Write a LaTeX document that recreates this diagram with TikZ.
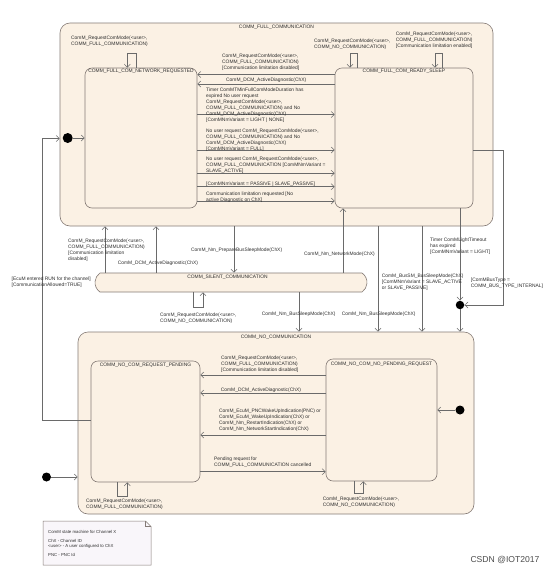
\documentclass[tikz,border=0pt]{standalone}
\usepackage{fontspec}
\setmainfont{Liberation Sans}
\usetikzlibrary{arrows.meta,shapes.misc}
\definecolor{beige}{HTML}{FBF1E4}
\definecolor{bordc}{HTML}{857B76}
\definecolor{linec}{HTML}{6A6A6A}
\definecolor{txtc}{HTML}{2E2E2E}
\definecolor{notefill}{HTML}{F9F6FA}
\begin{document}
\begin{tikzpicture}[x=1pt,y=-1pt,
  compbox/.style={draw=bordc,fill=beige,rounded corners=10pt,line width=0.6pt,inner sep=0},
  stbox/.style={draw=bordc,fill=beige,rounded corners=7pt,line width=0.6pt,inner sep=0},
  lbl/.style={font=\fontsize{4.9}{6}\selectfont,align=left,inner sep=0,anchor=north west,text=txtc},
  ttl/.style={font=\fontsize{4.9}{6}\selectfont,inner sep=0,text=txtc},
  tr/.style={draw=linec,line width=0.5pt,-{Straight Barb[length=3.2pt,width=6pt]}},
  ln/.style={draw=linec,line width=0.5pt},
  initdot/.style={circle,fill=black,inner sep=0,minimum size=9pt}]
\useasboundingbox (0,0) rectangle (550,576);
\fill[white] (0,0) rectangle (550,576);

% composite states
\node[compbox,minimum width=433pt,minimum height=203pt] (FULL) at (276.5,124.5) {};
\node[compbox,minimum width=396pt,minimum height=182pt] (NOC) at (276,423) {};
\node[rounded rectangle,rounded rectangle arc length=110,draw=bordc,fill=beige,line width=0.6pt,inner sep=0,minimum width=272pt,minimum height=19pt] (SIL) at (231,282.5) {};

% inner states
\node[stbox,minimum width=112pt,minimum height=140pt] (NR) at (141,138) {};
\node[stbox,minimum width=138pt,minimum height=140pt] (RS) at (404,138) {};
\node[stbox,minimum width=109pt,minimum height=121pt] (RP) at (145.5,421.5) {};
\node[stbox,minimum width=111pt,minimum height=122pt] (NP) at (381.5,420) {};

% titles
\node[ttl] (FULLt) at (276.5,27) {COMM\_FULL\_COMMUNICATION};
\node[ttl] (NRt) at (141,71.7) {COMM\_FULL\_COM\_NETWORK\_REQUESTED};
\node[ttl] (RSt) at (404,71.7) {COMM\_FULL\_COM\_READY\_SLEEP};
\node[ttl] (SILt) at (227.5,277) {COMM\_SILENT\_COMMUNICATION};
\node[ttl] (NOCt) at (276,337) {COMM\_NO\_COMMUNICATION};
\node[ttl] (RPt) at (145.5,365) {COMM\_NO\_COM\_REQUEST\_PENDING};
\node[ttl] (NPt) at (381.5,364.3) {COMM\_NO\_COM\_NO\_PENDING\_REQUEST};

% pseudo states
\node[initdot,minimum size=10pt] (I1) at (67.7,138) {};
\node[initdot] (I0) at (46.5,477) {};
\node[initdot] (I2) at (460,410) {};
\node[initdot,minimum size=8.5pt] (J) at (460,305) {};

% self loops
\draw[tr] (NR.north -| 136.7,0) -- (136.7,53.3) -| (NR.north -| 127.3,0);
\draw[tr] (RS.north -| 357.3,0) -- (357.3,53.3) -| (RS.north -| 350,0);
\draw[tr] (RS.north -| 442.3,0) -- (442.3,53.3) -| (RS.north -| 435,0);
\draw[tr] (SIL.south -| 193,0) -- (193,307) -| (SIL.south -| 203,0);
\draw[tr] (RP.south -| 117.7,0) -- (117.7,496) -| (RP.south -| 127.3,0);
\draw[tr] (NP.south -| 354,0) -- (354,493.3) -| (NP.south -| 363.3,0);

% transitions inside FULL
\draw[tr] (RS.west |- 0,74.5) -- (NR.east |- 0,74.5);
\draw[tr] (RS.west |- 0,84) -- (NR.east |- 0,84);
\draw[tr] (NR.east |- 0,114.5) -- (RS.west |- 0,114.5);
\draw[tr] (NR.east |- 0,150) -- (RS.west |- 0,150);
\draw[tr] (NR.east |- 0,173.3) -- (RS.west |- 0,173.3);
\draw[tr] (NR.east |- 0,186.7) -- (RS.west |- 0,186.7);
\draw[tr] (NR.east |- 0,201) -- (RS.west |- 0,201);
\draw[tr] (I1) -- (NR.west |- I1);

% transitions inside NO_COMM
\draw[tr] (NP.west |- 0,375) -- (RP.east |- 0,375);
\draw[tr] (NP.west |- 0,393) -- (RP.east |- 0,393);
\draw[tr] (NP.west |- 0,435) -- (RP.east |- 0,435);
\draw[tr] (RP.east |- 0,471.7) -- (NP.west |- 0,471.7);
\draw[tr] (I2) -- (NP.east |- I2);

% between composites
\draw[tr] (SIL.north -| 105,0) -- (FULL.south -| 105,0);
\draw[tr] (SIL.north -| 156,0) -- (FULL.south -| 156,0);
\draw[tr] (FULL.south -| 234,0) -- (SIL.north -| 234,0);
\draw[tr] (SIL.north -| 343,0) -- (RS.south -| 343,0);
\draw[tr] (SIL.south -| 299,0) -- (NOC.north -| 299,0);
\draw[tr] (FULL.south -| 378,0) -- (NOC.north -| 378,0);
\draw[tr] (FULL.south -| 422,0) -- (NOC.north -| 422,0);
\draw[tr] (RS.south -| J) -- (J);
\draw[tr] (J) -- (NOC.north -| J);
\draw[tr] (RS.east |- 0,150) -| (503.5,305) -- (J);
\draw[tr] (RP.west |- 0,420.5) -| (42.7,138.5) -- (FULL.west |- 0,138.5);
\draw[tr] (I0) -- (NOC.west |- I0);

% labels FULL
\node[lbl] (LA) at (71,36) {ComM\_RequestComMode(<user>,\\COMM\_FULL\_COMMUNICATION)};
\node[lbl] (LB) at (314,39) {ComM\_RequestComMode(<user>,\\COMM\_NO\_COMMUNICATION)};
\node[lbl] (LC) at (395.7,32) {ComM\_RequestComMode(<user>,\\COMM\_FULL\_COMMUNICATION)\\{}[Communication limitation enabled]};
\node[lbl] (LD) at (222,54) {ComM\_RequestComMode(<user>,\\COMM\_FULL\_COMMUNICATION)\\{}[Communication limitation disabled]};
\node[lbl] (LE) at (226,78) {ComM\_DCM\_ActiveDiagnostic(ChX)};
\node[lbl] (LF) at (206,88) {Timer ComMTMinFullComModeDuration has\\expired No user request\\ComM\_RequestComMode(<user>,\\COMM\_FULL\_COMMUNICATION) and No\\ComM\_DCM\_ActiveDiagnostic(ChX)\\{}[ComMNmVariant = LIGHT | NONE]};
\node[lbl] (LG) at (206,128.5) {No user request ComM\_RequestComMode(<user>,\\COMM\_FULL\_COMMUNICATION) and No\\ComM\_DCM\_ActiveDiagnostic(ChX)\\{}[ComMNmVariant = FULL]};
\node[lbl] (LH) at (206,157) {No user request ComM\_RequestComMode(<user>,\\COMM\_FULL\_COMMUNICATION [ComMNmVariant =\\SLAVE\_ACTIVE]};
\node[lbl] (LI) at (206,181.5) {[ComMNmVariant = PASSIVE | SLAVE\_PASSIVE]};
\node[lbl] (LJ) at (206,191.5) {Communication limitation requested [No\\active Diagnostic on ChX]};

% labels middle
\node[lbl] (LK) at (68,238.5) {ComM\_RequestComMode(<user>,\\COMM\_FULL\_COMMUNICATION)\\{}[Communication limitation\\disabled]};
\node[lbl] (LL) at (117.7,260.5) {ComM\_DCM\_ActiveDiagnostic(ChX)};
\node[lbl] (LM) at (191,247.5) {ComM\_Nm\_PrepareBusSleepMode(ChX)};
\node[lbl] (LN) at (304,251.5) {ComM\_Nm\_NetworkMode(ChX)};
\node[lbl] (LO) at (430,237.5) {Timer ComMLightTimeout\\has expired\\{}[ComMNmVariant = LIGHT]};
\node[lbl] (LP) at (381.7,273.5) {ComM\_BusSM\_BusSleepMode(ChX)\\{}[ComMNmVariant = SLAVE\_ACTIVE\\or SLAVE\_PASSIVE]};
\node[lbl] (LQ) at (470.7,277.5) {[ComMBusType =\\COMM\_BUS\_TYPE\_INTERNAL]};
\node[lbl] (LR) at (11.5,277) {[EcuM entered RUN for the channel]\\{}[CommunicationAllowed=TRUE]};
\node[lbl] (LS) at (160,312.5) {ComM\_RequestComMode(<user>,\\COMM\_NO\_COMMUNICATION)};
\node[lbl] (LT) at (261.7,312) {ComM\_Nm\_BusSleepMode(ChX)};
\node[lbl] (LU) at (341.7,312) {ComM\_Nm\_BusSleepMode(ChX)};

% labels NO_COMM
\node[lbl] (LV) at (221,355.5) {ComM\_RequestComMode(<user>,\\COMM\_FULL\_COMMUNICATION)\\{}[Communication limitation disabled]};
\node[lbl] (LW) at (220.7,388) {ComM\_DCM\_ActiveDiagnostic(ChX)};
\node[lbl] (LX) at (219,408.5) {ComM\_EcuM\_PNCWakeUpIndication(PNC) or\\ComM\_EcuM\_WakeUpIndication(ChX) or\\ComM\_Nm\_RestartIndication(ChX) or\\ComM\_Nm\_NetworkStartIndication(ChX)};
\node[lbl] (LY) at (214,457) {Pending request for\\COMM\_FULL\_COMMUNICATION cancelled};
\node[lbl] (LZ) at (86,498.5) {ComM\_RequestComMode(<user>,\\COMM\_FULL\_COMMUNICATION)};
\node[lbl] (LAA) at (322.7,497) {ComM\_RequestComMode(<user>,\\COMM\_NO\_COMMUNICATION)};

% note
\draw[draw=bordc,fill=notefill,line width=0.5pt] (43,521) -- (145.5,521) -- (151,526.5) -- (151,565) -- (43,565) -- cycle;
\draw[draw=bordc,line width=0.5pt] (145.5,521) -- (145.5,526.5) -- (151,526.5);
\node[lbl,font=\fontsize{4.3}{4.7}\selectfont] (NOTE) at (48,530) {ComM state machine for Channel X\\[4.7pt]ChX - Channel ID\\<user> - A user configured to ChX\\[4.7pt]PNC - PNC Id};

% watermark
\node[inner sep=0,font=\fontsize{8.6}{9}\selectfont,text=black!70] (WM) at (505,560) {CSDN @IOT2017};
\end{tikzpicture}
\end{document}
